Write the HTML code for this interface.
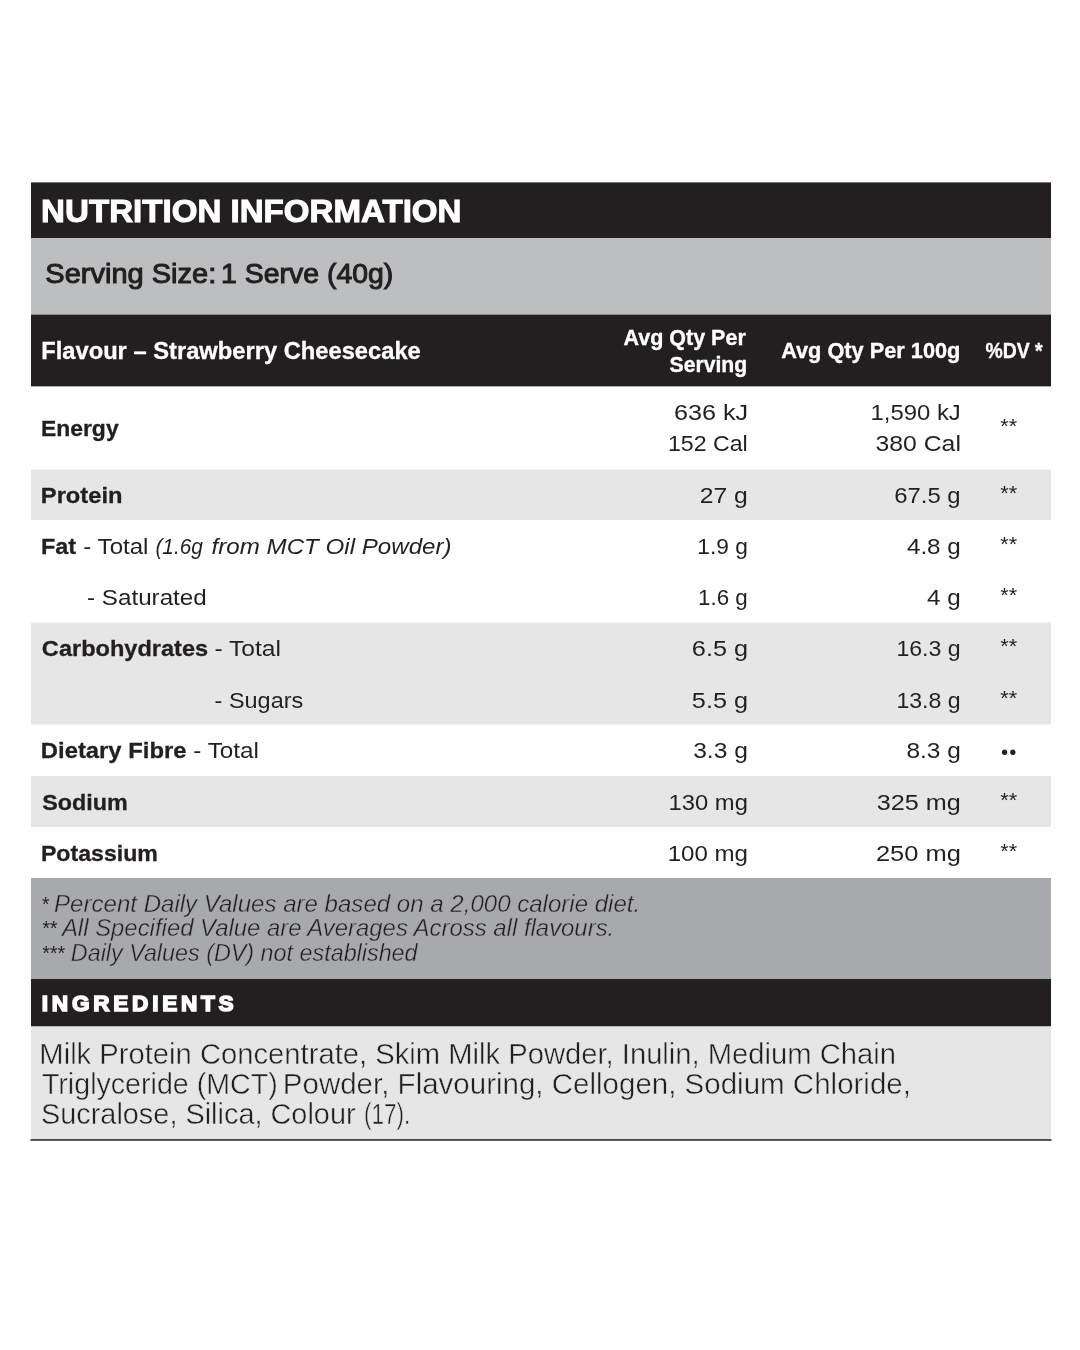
<!DOCTYPE html>
<html lang="en">
<head>
<meta charset="utf-8">
<title>Nutrition Information</title>
<style>
html,body{margin:0;padding:0;background:#fff;}
body{width:1080px;height:1350px;overflow:hidden;}
svg{display:block;}
text{font-family:"Liberation Sans",sans-serif;}
</style>
</head>
<body>
<svg width="1080" height="1350" viewBox="0 0 1080 1350" role="img" aria-label="Nutrition information panel">
<rect x="0" y="0" width="1080" height="1350" fill="#ffffff"/>
<g id="panel-title">
<rect x="31" y="182.4" width="1020" height="56" fill="#231f20"/>
<text id="t0" x="41.13" y="222" font-size="30.5" fill="#fff" textLength="420.4" lengthAdjust="spacingAndGlyphs" font-weight="bold" stroke="#fff" stroke-width="1.0">NUTRITION INFORMATION</text>
</g>
<g id="serving-size">
<rect x="31" y="238" width="1020" height="77" fill="#bcbec0"/>
<text id="t1" x="45.33" y="283" font-size="26.8" fill="#231f20" textLength="170.88" lengthAdjust="spacingAndGlyphs" stroke="#231f20" stroke-width="1.0">Serving Size:</text>
<text id="t2" x="221.11" y="283" font-size="26.8" fill="#231f20" textLength="172.14" lengthAdjust="spacingAndGlyphs" stroke="#231f20" stroke-width="1.0">1 Serve (40g)</text>
</g>
<g id="table-header">
<rect x="31" y="314.7" width="1020" height="71.7" fill="#231f20"/>
<text id="t4" x="623.56" y="345" font-size="22" fill="#fff" textLength="122.24" lengthAdjust="spacingAndGlyphs" font-weight="bold" stroke="#fff" stroke-width="0.35">Avg Qty Per</text>
<text id="t6" x="781.14" y="358" font-size="22" fill="#fff" textLength="179.24" lengthAdjust="spacingAndGlyphs" font-weight="bold" stroke="#fff" stroke-width="0.35">Avg Qty Per 100g</text>
<text id="t7" x="985.44" y="358" font-size="22" fill="#fff" textLength="57.23" lengthAdjust="spacingAndGlyphs" font-weight="bold" stroke="#fff" stroke-width="0.35">%DV *</text>
<text id="t3" x="41.21" y="359" font-size="23.2" fill="#fff" textLength="379.6" lengthAdjust="spacingAndGlyphs" font-weight="bold" stroke="#fff" stroke-width="0.3">Flavour – Strawberry Cheesecake</text>
<text id="t5" x="669.53" y="372" font-size="22" fill="#fff" textLength="77.62" lengthAdjust="spacingAndGlyphs" font-weight="bold" stroke="#fff" stroke-width="0.35">Serving</text>
</g>
<g id="nutrient-rows">
<rect x="31" y="469.5" width="1020" height="50.5" fill="#e6e6e6"/>
<rect x="31" y="622.5" width="1020" height="102" fill="#e6e6e6"/>
<rect x="31" y="776" width="1020" height="51" fill="#e6e6e6"/>
<text id="t9" x="673.91" y="420" font-size="22.4" fill="#231f20" textLength="74.23" lengthAdjust="spacingAndGlyphs">636 kJ</text>
<text id="t11" x="870.45" y="420" font-size="22.4" fill="#231f20" textLength="90.4" lengthAdjust="spacingAndGlyphs">1,590 kJ</text>
<text x="1000.3" y="433" font-size="19.5" fill="#231f20" textLength="16.9" lengthAdjust="spacingAndGlyphs">**</text>
<text id="t8" x="40.9" y="436" font-size="22.6" fill="#231f20" textLength="77.76" lengthAdjust="spacingAndGlyphs" font-weight="bold" stroke="#231f20" stroke-width="0.3">Energy</text>
<text id="t10" x="667.95" y="451" font-size="22.4" fill="#231f20" textLength="79.77" lengthAdjust="spacingAndGlyphs">152 Cal</text>
<text id="t12" x="875.53" y="451" font-size="22.4" fill="#231f20" textLength="85.4" lengthAdjust="spacingAndGlyphs">380 Cal</text>
<text x="1000.3" y="500" font-size="19.5" fill="#231f20" textLength="16.9" lengthAdjust="spacingAndGlyphs">**</text>
<text id="t13" x="40.88" y="503" font-size="22.6" fill="#231f20" textLength="81.55" lengthAdjust="spacingAndGlyphs" font-weight="bold" stroke="#231f20" stroke-width="0.3">Protein</text>
<text id="t14" x="699.81" y="503" font-size="22.4" fill="#231f20" textLength="48.08" lengthAdjust="spacingAndGlyphs">27 g</text>
<text id="t15" x="894.28" y="503" font-size="22.4" fill="#231f20" textLength="66.39" lengthAdjust="spacingAndGlyphs">67.5 g</text>
<text x="1000.3" y="551" font-size="19.5" fill="#231f20" textLength="16.9" lengthAdjust="spacingAndGlyphs">**</text>
<text id="t16" x="40.9" y="554" font-size="22.6" fill="#231f20" textLength="35.15" lengthAdjust="spacingAndGlyphs" font-weight="bold" stroke="#231f20" stroke-width="0.3">Fat</text>
<text id="t17" x="83.37" y="554" font-size="22.5" fill="#231f20" textLength="65.1" lengthAdjust="spacingAndGlyphs">- Total</text>
<text id="t18" x="155.4" y="554" font-size="22.5" fill="#231f20" textLength="47.6" lengthAdjust="spacingAndGlyphs" font-style="italic">(1.6g</text>
<text id="t19" x="211.57" y="554" font-size="22.5" fill="#231f20" textLength="240.01" lengthAdjust="spacingAndGlyphs" font-style="italic">from MCT Oil Powder)</text>
<text id="t20" x="697.38" y="554" font-size="22.4" fill="#231f20" textLength="50.49" lengthAdjust="spacingAndGlyphs">1.9 g</text>
<text id="t21" x="906.95" y="554" font-size="22.4" fill="#231f20" textLength="53.81" lengthAdjust="spacingAndGlyphs">4.8 g</text>
<text x="1000.3" y="602" font-size="19.5" fill="#231f20" textLength="16.9" lengthAdjust="spacingAndGlyphs">**</text>
<text id="t22" x="87.08" y="605" font-size="22.5" fill="#231f20" textLength="119.64" lengthAdjust="spacingAndGlyphs">- Saturated</text>
<text id="t23" x="698.04" y="605" font-size="22.4" fill="#231f20" textLength="49.76" lengthAdjust="spacingAndGlyphs">1.6 g</text>
<text id="t24" x="927.11" y="605" font-size="22.4" fill="#231f20" textLength="33.7" lengthAdjust="spacingAndGlyphs">4 g</text>
<text x="1000.3" y="653" font-size="19.5" fill="#231f20" textLength="16.9" lengthAdjust="spacingAndGlyphs">**</text>
<text id="t25" x="41.88" y="656" font-size="22.6" fill="#231f20" textLength="166.3" lengthAdjust="spacingAndGlyphs" font-weight="bold" stroke="#231f20" stroke-width="0.3">Carbohydrates</text>
<text id="t26" x="214.4" y="656" font-size="22.5" fill="#231f20" textLength="66.51" lengthAdjust="spacingAndGlyphs">- Total</text>
<text id="t27" x="691.88" y="656" font-size="22.4" fill="#231f20" textLength="56.21" lengthAdjust="spacingAndGlyphs">6.5 g</text>
<text id="t28" x="896.4" y="656" font-size="22.4" fill="#231f20" textLength="64.26" lengthAdjust="spacingAndGlyphs">16.3 g</text>
<text x="1000.3" y="705" font-size="19.5" fill="#231f20" textLength="16.9" lengthAdjust="spacingAndGlyphs">**</text>
<text id="t29" x="214.63" y="708" font-size="22.5" fill="#231f20" textLength="88.59" lengthAdjust="spacingAndGlyphs">- Sugars</text>
<text id="t30" x="691.87" y="708" font-size="22.4" fill="#231f20" textLength="56.22" lengthAdjust="spacingAndGlyphs">5.5 g</text>
<text id="t31" x="896.4" y="708" font-size="22.4" fill="#231f20" textLength="64.26" lengthAdjust="spacingAndGlyphs">13.8 g</text>
<text id="t32" x="40.85" y="758" font-size="22.6" fill="#231f20" textLength="145.64" lengthAdjust="spacingAndGlyphs" font-weight="bold" stroke="#231f20" stroke-width="0.3">Dietary Fibre</text>
<text id="t33" x="193.35" y="758" font-size="22.5" fill="#231f20" textLength="65.61" lengthAdjust="spacingAndGlyphs">- Total</text>
<text id="t34" x="693.16" y="758" font-size="22.4" fill="#231f20" textLength="54.69" lengthAdjust="spacingAndGlyphs">3.3 g</text>
<text id="t35" x="906.44" y="758" font-size="22.4" fill="#231f20" textLength="54.32" lengthAdjust="spacingAndGlyphs">8.3 g</text>
<text id="dots" x="1000.9" y="759" font-size="20.3" fill="#231f20" textLength="15.4" lengthAdjust="spacing">••</text>
<text x="1000.3" y="807" font-size="19.5" fill="#231f20" textLength="16.9" lengthAdjust="spacingAndGlyphs">**</text>
<text id="t36" x="42.28" y="810" font-size="22.6" fill="#231f20" textLength="85.52" lengthAdjust="spacingAndGlyphs" font-weight="bold" stroke="#231f20" stroke-width="0.3">Sodium</text>
<text id="t37" x="668.6" y="810" font-size="22.4" fill="#231f20" textLength="79.28" lengthAdjust="spacingAndGlyphs">130 mg</text>
<text id="t38" x="876.79" y="810" font-size="22.4" fill="#231f20" textLength="83.95" lengthAdjust="spacingAndGlyphs">325 mg</text>
<text x="1000.3" y="858" font-size="19.5" fill="#231f20" textLength="16.9" lengthAdjust="spacingAndGlyphs">**</text>
<text id="t39" x="40.9" y="861" font-size="22.6" fill="#231f20" textLength="116.98" lengthAdjust="spacingAndGlyphs" font-weight="bold" stroke="#231f20" stroke-width="0.3">Potassium</text>
<text id="t40" x="667.73" y="861" font-size="22.4" fill="#231f20" textLength="80.29" lengthAdjust="spacingAndGlyphs">100 mg</text>
<text id="t41" x="875.91" y="861" font-size="22.4" fill="#231f20" textLength="84.95" lengthAdjust="spacingAndGlyphs">250 mg</text>
</g>
<g id="footnotes">
<rect x="31" y="878" width="1020" height="101.5" fill="#a7a9ac"/>
<text id="t42" x="41.29" y="911" font-size="21" fill="#231f20" textLength="7.29" lengthAdjust="spacingAndGlyphs" font-style="italic">*</text>
<text id="t43" x="54.09" y="912" font-size="23.5" fill="#231f20" textLength="586.14" lengthAdjust="spacingAndGlyphs" font-style="italic" stroke="#a7a9ac" stroke-width="0.4">Percent Daily Values are based on a 2,000 calorie diet.</text>
<text id="t44" x="41.39" y="935" font-size="21" fill="#231f20" textLength="15.42" lengthAdjust="spacingAndGlyphs" font-style="italic">**</text>
<text id="t45" x="61.93" y="936" font-size="23.5" fill="#231f20" textLength="552.31" lengthAdjust="spacingAndGlyphs" font-style="italic" stroke="#a7a9ac" stroke-width="0.4">All Specified Value are Averages Across all flavours.</text>
<text id="t46" x="41.38" y="960" font-size="21" fill="#231f20" textLength="22.97" lengthAdjust="spacingAndGlyphs" font-style="italic">***</text>
<text id="t47" x="70.85" y="961" font-size="23.5" fill="#231f20" textLength="346.74" lengthAdjust="spacingAndGlyphs" font-style="italic" stroke="#a7a9ac" stroke-width="0.4">Daily Values (DV) not established</text>
</g>
<g id="ingredients">
<rect x="31" y="979" width="1020" height="47.5" fill="#231f20"/>
<rect x="31" y="1026.5" width="1020" height="112.5" fill="#e6e6e6"/>
<rect x="30.5" y="1139" width="1021" height="1.9" fill="#4d4d4f"/>
<text id="t48" x="41.86" y="1011" font-size="22.6" fill="#fff" textLength="191.74" lengthAdjust="spacing" font-weight="bold" stroke="#fff" stroke-width="1.6">INGREDIENTS</text>
<text id="t49" x="39.33" y="1064" font-size="28.6" fill="#231f20" textLength="856.7" lengthAdjust="spacingAndGlyphs" stroke="#e6e6e6" stroke-width="0.45">Milk Protein Concentrate, Skim Milk Powder, Inulin, Medium Chain</text>
<text id="t50" x="41.93" y="1094" font-size="28.6" fill="#231f20" textLength="235.76" lengthAdjust="spacingAndGlyphs" stroke="#e6e6e6" stroke-width="0.45">Triglyceride (MCT)</text>
<text id="t51" x="282.81" y="1094" font-size="28.6" fill="#231f20" textLength="628.14" lengthAdjust="spacingAndGlyphs" stroke="#e6e6e6" stroke-width="0.45">Powder, Flavouring, Cellogen, Sodium Chloride,</text>
<text id="t52" x="40.94" y="1124" font-size="28.6" fill="#231f20" textLength="314.66" lengthAdjust="spacingAndGlyphs" stroke="#e6e6e6" stroke-width="0.45">Sucralose, Silica, Colour</text>
<text id="t53" x="364.02" y="1124" font-size="28.6" fill="#231f20" textLength="46.14" lengthAdjust="spacingAndGlyphs" stroke="#e6e6e6" stroke-width="0.45">(17).</text>
</g>
</svg>
</body>
</html>
